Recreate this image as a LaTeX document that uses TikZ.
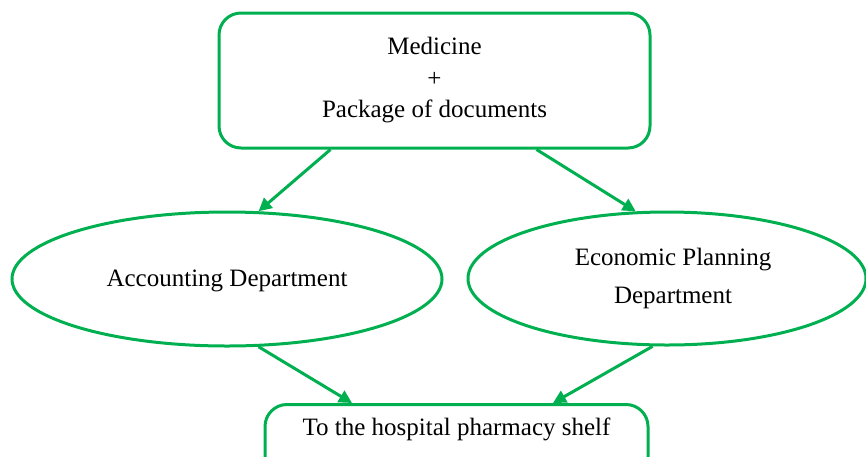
\documentclass[tikz,border=0pt]{standalone}
\usepackage{fontspec}
\setmainfont{Liberation Serif}
\usetikzlibrary{shapes.geometric,arrows.meta,calc}
\definecolor{flowgreen}{HTML}{00B050}
\begin{document}
\begin{tikzpicture}[x=1pt,y=-1pt,
  every node/.style={font=\fontsize{25}{31.5}\selectfont, text=black},
  roundbox/.style={draw=flowgreen, line width=3pt, rounded corners=22pt, inner sep=0pt},
  oval/.style={draw=flowgreen, line width=3pt, ellipse, inner sep=0pt},
  arr/.style={draw=flowgreen, line width=3pt, -{Triangle[length=13pt,width=13pt]}}]
  \useasboundingbox (0,0) rectangle (866,456);
  \clip (0,0) rectangle (866,456);

  % source box
  \node[roundbox, minimum width=431pt, minimum height=135pt, align=center]
    (src) at (434.5,80.5) {Medicine\\+\\Package of documents};

  % departments
  \node[oval, minimum width=430pt, minimum height=134pt,
        text height=21pt, text depth=5.5pt]
    (acc) at (227,279) {Accounting Department};
  \node[oval, minimum width=398pt, minimum height=133pt, align=center,
        font=\fontsize{25}{38}\selectfont]
    (eco) at (667,278.5) {\hspace*{12pt}Economic Planning\\\hspace*{12pt}Department};

  % destination box (runs past the lower edge)
  \node[roundbox, anchor=north, minimum width=383pt, inner ysep=14pt,
        text height=17pt, text depth=31pt]
    (shelf) at (456.5,403) {To the hospital pharmacy shelf};

  % flow
  \draw[arr] ($(src.south)+(-104,0)$) -- (acc.65);
  \draw[arr] ($(src.south)+(102,0)$) -- (eco.115);
  \draw[arr] (acc.-65) -- ($(shelf.north)+(-104.5,0)$);
  \draw[arr] (eco.-102) -- ($(shelf.north)+(96.5,0)$);
\end{tikzpicture}
\end{document}
